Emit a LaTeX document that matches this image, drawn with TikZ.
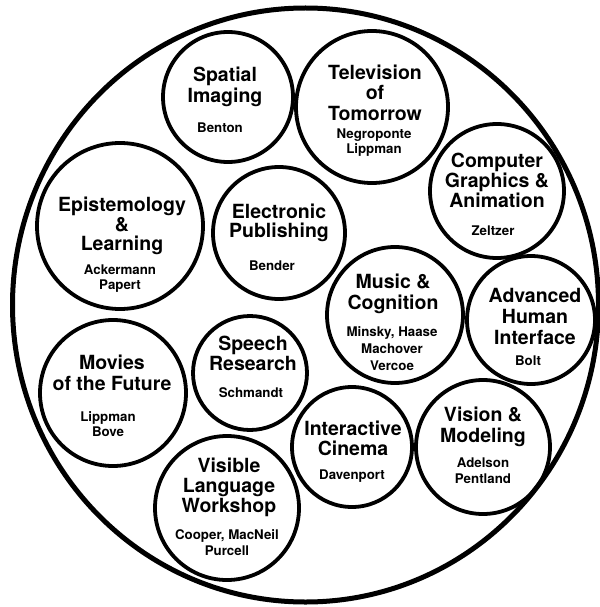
\documentclass[tikz,border=0pt]{standalone}
\usepackage{fontspec}
\setmainfont{TeX Gyre Heros}
\usetikzlibrary{shapes.geometric}
\tikzset{
  bub/.style={circle, draw, line width=3.8pt, inner sep=0pt},
  ttl/.style={anchor=base, font=\bfseries\fontsize{19.5}{21}\selectfont, inner sep=0pt},
  nm/.style={anchor=base, font=\bfseries\fontsize{13.3}{15}\selectfont, inner sep=0pt},
}
\newcommand\blk[6]{%
  \foreach \l [count=\i] in {#6} {\node[#2] (#1\i) at (#3, {#4+(\i-1)*#5}) {\l};}}
\begin{document}
\begin{tikzpicture}[x=1pt,y=-1pt]
\useasboundingbox (0,0) rectangle (599,607);
\node[ellipse, draw, line width=5pt, minimum width=586, minimum height=594, inner sep=0pt] (outer) at (305.5,305) {};
% circles
\node[bub, minimum size=130] (c1) at (228,97) {};
\node[bub, minimum size=152] (c2) at (372,107) {};
\node[bub, minimum size=134] (c3) at (497,191) {};
\node[bub, minimum size=166] (c4) at (120,226) {};
\node[bub, minimum size=132] (c5) at (279,233) {};
\node[bub, minimum size=136] (c6) at (395,315) {};
\node[bub, minimum size=128] (c7) at (531,320) {};
\node[bub, minimum size=146] (c8) at (113,393) {};
\node[bub, minimum size=114] (c9) at (250,373) {};
\node[bub, minimum size=120] (c10) at (352,447) {};
\node[bub, minimum size=134] (c11) at (483,447) {};
\node[bub, minimum size=144] (c12) at (227,508) {};
% titles and names
\blk{t1-}{ttl}{225}{81.5}{21}{Spatial,Imaging}
\blk{n1-}{nm}{220}{132.5}{15}{Benton}
\blk{t2-}{ttl}{375}{79.5}{20.5}{Television,of,Tomorrow}
\blk{n2-}{nm}{374}{138.5}{15}{Negroponte,Lippman}
\blk{t3-}{ttl}{497}{167.5}{20}{Computer,Graphics \&,Animation}
\blk{n3-}{nm}{493}{235.5}{15}{Zeltzer}
\blk{t4-}{ttl}{122}{211.5}{19.5}{Epistemology,\&,Learning}
\blk{n4-}{nm}{120}{274.5}{15}{Ackermann,Papert}
\blk{t5-}{ttl}{279}{218.5}{19}{Electronic,Publishing}
\blk{n5-}{nm}{272}{270.5}{15}{Bender}
\blk{t6-}{ttl}{393}{288.5}{21}{Music \&,Cognition}
\blk{n6-}{nm}{392}{336.5}{17}{{Minsky, Haase},Machover,Vercoe}
\blk{t7-}{ttl}{535}{302.5}{21}{Advanced,Human,Interface}
\blk{n7-}{nm}{528}{365.5}{15}{Bolt}
\blk{t8-}{ttl}{112}{369.5}{21}{Movies,of the Future}
\blk{n8-}{nm}{108}{421.5}{15}{Lippman,Bove}
\blk{t9-}{ttl}{253}{350.5}{20}{Speech,Research}
\blk{n9-}{nm}{251}{397.5}{15}{Schmandt}
\blk{t10-}{ttl}{353}{435.5}{20}{Interactive,Cinema}
\blk{n10-}{nm}{352}{479.5}{15}{Davenport}
\blk{t11-}{ttl}{483}{421.5}{21}{Vision \&,Modeling}
\blk{n11-}{nm}{483}{467.5}{16}{Adelson,Pentland}
\blk{t12-}{ttl}{229}{472.5}{20}{Visible,Language,Workshop}
\blk{n12-}{nm}{227}{539.5}{16}{{Cooper, MacNeil},Purcell}
\end{tikzpicture}
\end{document}
